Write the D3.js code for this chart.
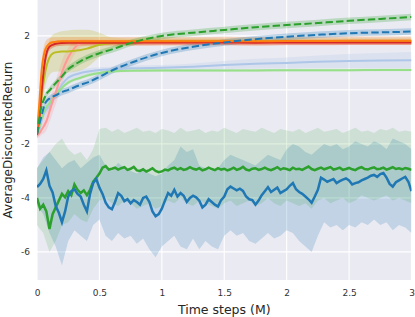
<!DOCTYPE html>
<html>
<head>
<meta charset="utf-8">
<script src="https://cdn.jsdelivr.net/npm/d3@7"></script>
<style>
  body { margin: 0; background: #fff; }
  svg text { font-family: "DejaVu Sans", sans-serif; }
</style>
</head>
<body>
<svg id="chart" width="415" height="317"></svg>
<script>
// ---- top group: fast-learning curves (x in M steps) ----
const topX = [0, 0.02, 0.04, 0.06, 0.08, 0.1, 0.13, 0.16, 0.2, 0.25, 0.3, 0.35, 0.4, 0.5, 0.6, 0.75, 1, 1.25, 1.5, 1.75, 2, 2.25, 2.5, 2.75, 3];

const orangeY = [-1.6, -0.4, 0.85, 1.4, 1.62, 1.72, 1.77, 1.79, 1.8, 1.8, 1.8, 1.8, 1.8, 1.8, 1.8, 1.8, 1.8, 1.8, 1.81, 1.8, 1.81, 1.81, 1.82, 1.82, 1.82];
const orangeSd = [0.1, 0.35, 0.35, 0.3, 0.25, 0.2, 0.18, 0.16, 0.16, 0.16, 0.16, 0.16, 0.16, 0.16, 0.16, 0.16, 0.16, 0.16, 0.16, 0.16, 0.16, 0.16, 0.16, 0.16, 0.16];
const redY = [-1.65, -1.0, 0.1, 0.95, 1.42, 1.6, 1.68, 1.72, 1.74, 1.75, 1.75, 1.75, 1.75, 1.75, 1.75, 1.75, 1.76, 1.76, 1.76, 1.75, 1.76, 1.76, 1.76, 1.76, 1.76];
const redSd = [0.1, 0.3, 0.35, 0.3, 0.2, 0.15, 0.12, 0.1, 0.1, 0.1, 0.1, 0.1, 0.1, 0.1, 0.1, 0.1, 0.1, 0.1, 0.1, 0.1, 0.1, 0.1, 0.1, 0.1, 0.1];
const oliveY = [-1.65, -0.9, -0.15, 0.5, 0.95, 1.2, 1.36, 1.4, 1.42, 1.42, 1.45, 1.48, 1.53, 1.67, 1.74, 1.78, 1.8, 1.8, 1.8, 1.8, 1.8, 1.8, 1.8, 1.8, 1.8];
const oliveSd = [0.1, 0.3, 0.45, 0.55, 0.6, 0.65, 0.7, 0.72, 0.75, 0.78, 0.78, 0.75, 0.7, 0.45, 0.2, 0.12, 0.1, 0.1, 0.1, 0.1, 0.1, 0.1, 0.1, 0.1, 0.1];
const pinkY = [-1.7, -1.6, -1.45, -1.3, -1.1, -0.8, -0.35, 0.05, 0.65, 1.2, 1.55, 1.73, 1.76, 1.76, 1.76, 1.76, 1.76, 1.76, 1.76, 1.76, 1.76, 1.76, 1.76, 1.76, 1.76];
const pinkSd = [0.1, 0.15, 0.2, 0.3, 0.35, 0.4, 0.45, 0.45, 0.45, 0.35, 0.25, 0.15, 0.12, 0.1, 0.1, 0.1, 0.1, 0.1, 0.1, 0.1, 0.1, 0.1, 0.1, 0.1, 0.1];
const greenDashY = [-1.65, -1.0, -0.55, -0.3, -0.12, -0.02, 0.15, 0.3, 0.5, 0.77, 0.93, 1.07, 1.18, 1.36, 1.5, 1.74, 2.0, 2.12, 2.22, 2.32, 2.4, 2.48, 2.56, 2.63, 2.7];
const greenDashSd = [0.08, 0.12, 0.12, 0.12, 0.12, 0.12, 0.12, 0.12, 0.12, 0.12, 0.12, 0.12, 0.12, 0.12, 0.12, 0.12, 0.12, 0.12, 0.12, 0.12, 0.12, 0.12, 0.12, 0.12, 0.12];
const blueDashY = [-1.65, -1.25, -0.9, -0.55, -0.4, -0.32, -0.24, -0.18, -0.08, 0.0, 0.1, 0.19, 0.27, 0.48, 0.72, 1.0, 1.37, 1.6, 1.76, 1.88, 1.97, 2.04, 2.1, 2.13, 2.16];
const blueDashSd = [0.08, 0.12, 0.12, 0.12, 0.12, 0.12, 0.12, 0.12, 0.12, 0.12, 0.12, 0.12, 0.12, 0.12, 0.12, 0.12, 0.12, 0.12, 0.12, 0.12, 0.12, 0.12, 0.12, 0.12, 0.12];
const lightBlueY = [-1.7, -1.45, -1.1, -0.85, -0.7, -0.62, -0.35, -0.12, 0.2, 0.45, 0.56, 0.63, 0.67, 0.74, 0.76, 0.8, 0.82, 0.86, 0.92, 0.97, 1.0, 1.04, 1.07, 1.09, 1.1];
const lightBlueSd = [0.1, 0.15, 0.15, 0.15, 0.15, 0.15, 0.15, 0.15, 0.15, 0.15, 0.15, 0.12, 0.12, 0.1, 0.1, 0.1, 0.1, 0.12, 0.15, 0.18, 0.2, 0.23, 0.26, 0.28, 0.3];
const lightGreenY = [-1.65, -1.35, -1.0, -0.75, -0.6, -0.5, -0.3, -0.12, 0.08, 0.27, 0.38, 0.45, 0.53, 0.63, 0.68, 0.71, 0.72, 0.72, 0.72, 0.72, 0.73, 0.73, 0.73, 0.74, 0.74];
const lightGreenSd = [0.06, 0.08, 0.08, 0.08, 0.08, 0.08, 0.08, 0.08, 0.08, 0.07, 0.06, 0.06, 0.06, 0.06, 0.05, 0.05, 0.05, 0.05, 0.05, 0.05, 0.05, 0.05, 0.05, 0.05, 0.05];

// ---- bottom group: noisy curves, one value every 0.025 M ----
const blueSolid = [
  -3.60, -3.48, -3.30, -2.98, -3.55, -3.80, -4.30, -4.55, -4.90, -4.50,
  -3.95, -3.75, -3.68, -3.85, -3.95, -4.25, -4.50, -3.85, -3.45, -3.30,
  -3.62, -3.85, -4.18, -4.35, -4.42, -4.15, -3.82, -3.92, -4.12, -4.05,
  -4.20, -4.08, -4.15, -4.25, -4.00, -3.95, -4.15, -4.50, -4.68, -4.60,
  -4.40, -4.10, -3.82, -3.92, -3.70, -3.95, -3.82, -3.92, -4.15, -4.00,
  -3.92, -3.98, -4.10, -4.35, -4.25, -4.05, -4.15, -4.25, -4.32, -4.08,
  -3.95, -3.68, -3.58, -3.65, -3.72, -3.66, -3.74, -3.95, -4.05, -4.08,
  -4.25, -4.10, -3.90, -3.75, -3.60, -3.78, -3.70, -3.62, -3.82, -3.75,
  -3.68, -3.55, -3.45, -3.68, -3.78, -3.85, -3.95, -4.05, -4.18, -3.95,
  -3.70, -3.25, -3.32, -3.40, -3.35, -3.30, -3.45, -3.38, -3.32, -3.28,
  -3.35, -3.50, -3.45, -3.42, -3.35, -3.30, -3.25, -3.18, -3.15, -3.22,
  -3.12, -3.08, -3.25, -3.48, -3.58, -3.42, -3.35, -3.28, -3.22, -3.40,
  -3.75
];
const greenSolid = [
  -4.00, -4.40, -4.25, -4.50, -5.15, -4.60, -4.35, -4.10, -3.85, -3.98,
  -3.75, -3.90, -3.50, -3.70, -3.82, -3.72, -3.90, -3.70, -3.40, -3.25,
  -3.10, -2.88, -2.82, -2.95, -2.92, -2.88, -2.95, -2.90, -2.86, -2.96,
  -2.92, -2.85, -2.98, -3.00, -2.94, -3.02, -2.97, -2.90, -3.00, -3.05,
  -3.02, -2.95, -2.98, -2.92, -2.88, -2.95, -2.90, -2.96, -2.93, -2.86,
  -2.92, -2.95, -2.90, -2.98, -2.94, -2.88, -2.93, -2.97, -2.90, -2.95,
  -2.92, -2.98, -2.94, -2.88, -2.96, -2.92, -2.85, -2.95, -2.98, -2.92,
  -2.90, -2.96, -2.93, -2.88, -2.94, -2.97, -2.92, -2.86, -2.95, -2.90,
  -2.93, -2.97, -2.88, -2.94, -2.92, -2.96, -2.90, -2.84, -2.93, -2.97,
  -2.92, -2.88, -2.94, -2.90, -2.86, -2.95, -2.92, -2.88, -2.96, -2.93,
  -2.89, -2.94, -2.97, -2.90, -2.86, -2.93, -2.95, -2.90, -2.87, -2.94,
  -2.92, -2.88, -2.95, -2.91, -2.86, -2.93, -2.90, -2.94, -2.89, -2.92,
  -2.96
];
// bands of the noisy curves, one value every 0.05 M
const blueUpper = [
  -2.9, -2.5, -2.3, -2.6, -2.9, -2.7, -2.6, -2.9, -2.7, -2.5,
  -2.4, -2.8, -3.0, -2.7, -2.9, -3.0, -3.1, -2.9, -3.1, -3.2,
  -3.1, -2.8, -2.6, -2.1, -2.3, -2.2, -2.8, -2.9, -3.0, -2.9,
  -2.6, -2.4, -2.5, -2.6, -2.7, -2.8, -2.6, -2.4, -2.5, -2.6,
  -2.2, -2.0, -2.1, -2.3, -2.4, -2.2, -2.0, -2.1, -2.0, -2.2,
  -2.1, -1.9, -2.0, -2.1, -1.9, -2.0, -2.2, -1.8, -1.9, -2.0,
  -2.2
];
const blueLower = [
  -4.3, -4.6, -5.3, -5.8, -6.5, -5.6, -5.2, -5.4, -5.6, -5.0,
  -4.8, -5.4, -5.6, -5.3, -5.5, -5.4, -5.7, -5.5, -5.9, -6.2,
  -5.8, -5.6, -5.4, -5.8, -5.9, -5.5, -5.9, -5.6, -5.8, -5.9,
  -5.4, -5.2, -5.4, -5.3, -5.6, -5.7, -5.5, -5.3, -5.5, -5.4,
  -5.2, -5.3, -5.6, -5.8, -6.0, -5.4, -4.9, -5.1, -5.0, -5.2,
  -5.0, -5.1, -4.9, -5.0, -4.8, -5.0, -4.9, -5.2, -5.0, -5.1,
  -5.3
];
const greenUpper = [
  -2.9, -2.6, -2.3, -2.0, -1.8, -2.2, -2.4, -2.3, -2.6, -2.2,
  -1.45, -1.4, -1.55, -1.45, -1.6, -1.5, -1.4, -1.55, -1.5, -1.6,
  -1.45, -1.5, -1.6, -1.4, -1.55, -1.5, -1.45, -1.6, -1.5, -1.55,
  -1.4, -1.5, -1.6, -1.45, -1.5, -1.55, -1.4, -1.5, -1.6, -1.45,
  -1.5, -1.55, -1.45, -1.6, -1.5, -1.4, -1.55, -1.5, -1.45, -1.6,
  -1.5, -1.4, -1.55, -1.5, -1.6, -1.45, -1.5, -1.4, -1.55, -1.5,
  -1.55
];
const greenLower = [
  -5.0, -5.3, -6.0, -5.6, -5.0, -4.9, -4.6, -4.8, -4.9, -4.4,
  -4.1, -4.0, -4.2, -4.3, -4.1, -4.2, -4.4, -4.3, -4.2, -4.4,
  -4.3, -4.1, -4.2, -4.0, -4.2, -4.3, -4.1, -4.2, -4.3, -4.4,
  -4.2, -4.1, -4.3, -4.2, -4.1, -4.3, -4.2, -4.0, -4.2, -4.3,
  -4.1, -4.2, -4.3, -4.2, -4.4, -4.1, -4.0, -4.2, -4.1, -4.0,
  -4.2, -4.1, -3.9, -4.0, -4.1, -4.0, -3.9, -4.1, -4.0, -4.1,
  -4.2
];

const xTicks = [0, 0.5, 1, 1.5, 2, 2.5, 3];
const yTicks = [-6, -4, -2, 0, 2];

// ---- layout ----
const svg = d3.select('#chart');
const plot = {left: 37, right: 411.5, top: 0, bottom: 280};
const x = d3.scaleLinear().domain([0, 3]).range([plot.left, plot.right]);
const y = d3.scaleLinear().domain([-7.04, 3.33]).range([plot.bottom, plot.top]);

svg.append('rect')
  .attr('x', plot.left).attr('y', plot.top)
  .attr('width', plot.right - plot.left).attr('height', plot.bottom - plot.top)
  .attr('fill', '#eaeaf2');

svg.append('clipPath').attr('id', 'clip').append('rect')
  .attr('x', plot.left).attr('y', plot.top)
  .attr('width', plot.right - plot.left).attr('height', plot.bottom - plot.top);

// grid
const grid = svg.append('g').attr('stroke', '#fff').attr('stroke-width', 1.1);
grid.selectAll('.gx').data(xTicks).enter().append('line')
  .attr('x1', d => x(d)).attr('x2', d => x(d)).attr('y1', plot.top).attr('y2', plot.bottom);
grid.selectAll('.gy').data(yTicks).enter().append('line')
  .attr('x1', plot.left).attr('x2', plot.right).attr('y1', d => y(d)).attr('y2', d => y(d));

const layer = svg.append('g').attr('clip-path', 'url(#clip)');

function toRows(xs, ys, sd) {
  return xs.map((xv, i) => ({x: xv, y: ys[i], lo: ys[i] - sd[i], hi: ys[i] + sd[i]}));
}
const smoothArea = d3.area().curve(d3.curveMonotoneX)
  .x(d => x(d.x)).y0(d => y(d.lo)).y1(d => y(d.hi));
const smoothLine = d3.line().curve(d3.curveMonotoneX).x(d => x(d.x)).y(d => y(d.y));

const topSeries = [
  {ys: lightBlueY, sd: lightBlueSd, color: '#aec7e8', dash: null},
  {ys: lightGreenY, sd: lightGreenSd, color: '#98df8a', dash: null},
  {ys: pinkY, sd: pinkSd, color: '#ff9896', dash: null},
  {ys: oliveY, sd: oliveSd, color: '#bcbd22', dash: null},
  {ys: redY, sd: redSd, color: '#d62728', dash: null},
  {ys: orangeY, sd: orangeSd, color: '#ff7f0e', dash: null},
  {ys: blueDashY, sd: blueDashSd, color: '#1f77b4', dash: '7.4,3.2'},
  {ys: greenDashY, sd: greenDashSd, color: '#2ca02c', dash: '7.4,3.2'}
];

// bottom bands
const bandX = d3.range(61).map(i => i * 0.05);
const lineX = d3.range(121).map(i => i * 0.025);
const rawArea = d3.area().x(d => x(d.x)).y0(d => y(d.lo)).y1(d => y(d.hi));
const rawLine = d3.line().x(d => x(d.x)).y(d => y(d.y));

layer.append('path')
  .datum(bandX.map((xv, i) => ({x: xv, lo: blueLower[i], hi: blueUpper[i]})))
  .attr('d', rawArea).attr('fill', '#1f77b4').attr('fill-opacity', 0.2);
layer.append('path')
  .datum(bandX.map((xv, i) => ({x: xv, lo: greenLower[i], hi: greenUpper[i]})))
  .attr('d', rawArea).attr('fill', '#2ca02c').attr('fill-opacity', 0.15);

topSeries.forEach(s => {
  layer.append('path').datum(toRows(topX, s.ys, s.sd))
    .attr('d', smoothArea).attr('fill', s.color).attr('fill-opacity', 0.25);
});
topSeries.forEach(s => {
  layer.append('path').datum(toRows(topX, s.ys, s.sd))
    .attr('d', smoothLine).attr('fill', 'none')
    .attr('stroke', s.color).attr('stroke-width', 2)
    .attr('stroke-dasharray', s.dash);
});

layer.append('path')
  .datum(lineX.map((xv, i) => ({x: xv, y: greenSolid[i]})))
  .attr('d', rawLine).attr('fill', 'none').attr('stroke', '#2ca02c').attr('stroke-width', 2.5);
layer.append('path')
  .datum(lineX.map((xv, i) => ({x: xv, y: blueSolid[i]})))
  .attr('d', rawLine).attr('fill', 'none').attr('stroke', '#1f77b4').attr('stroke-width', 2.5);

// axes (no spines, no tick marks, like seaborn darkgrid)
const xAxis = svg.append('g').attr('transform', 'translate(0,' + plot.bottom + ')')
  .call(d3.axisBottom(x).tickValues(xTicks).tickSize(0).tickPadding(10).tickFormat(d3.format('')));
const yAxis = svg.append('g').attr('transform', 'translate(' + plot.left + ',0)')
  .call(d3.axisLeft(y).tickValues(yTicks).tickSize(0).tickPadding(7).tickFormat(d => String(d)));
[xAxis, yAxis].forEach(a => {
  a.select('.domain').remove();
  a.selectAll('text').attr('font-size', 9).attr('fill', '#333')
    .style('font-family', '"DejaVu Sans", sans-serif');
});

svg.append('text')
  .attr('x', (plot.left + plot.right) / 2).attr('y', 314)
  .attr('text-anchor', 'middle').attr('font-size', 12.5).attr('fill', '#262626')
  .text('Time steps (M)');
svg.append('text')
  .attr('transform', 'translate(12,140) rotate(-90)')
  .attr('text-anchor', 'middle').attr('font-size', 12).attr('fill', '#262626')
  .text('AverageDiscountedReturn');
</script>
</body>
</html>
